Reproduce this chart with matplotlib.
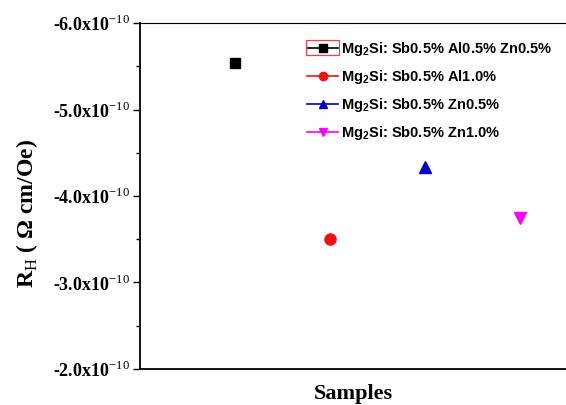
import matplotlib
matplotlib.use('Agg')
import matplotlib.pyplot as plt
from matplotlib.ticker import FixedLocator, FuncFormatter
from matplotlib.patches import Rectangle

plt.rcParams['mathtext.fontset'] = 'custom'
plt.rcParams['mathtext.rm'] = 'Liberation Serif'
plt.rcParams['mathtext.sf'] = 'Liberation Sans:bold'

# Hall coefficient, in units of 1e-10 Ohm cm/Oe
samples = [1, 2, 3, 4]
r_h = [-5.54, -3.50, -4.34, -3.74]
labels = [r'Mg$_\mathsf{2}$Si: Sb0.5% Al0.5% Zn0.5%',
          r'Mg$_\mathsf{2}$Si: Sb0.5% Al1.0%',
          r'Mg$_\mathsf{2}$Si: Sb0.5% Zn0.5%',
          r'Mg$_\mathsf{2}$Si: Sb0.5% Zn1.0%']
colors = ['black', '#ee1111', '#0000cc', '#ff00ff']
markers = ['s', 'o', '^', 'v']
sizes = [7, 8, 8.5, 8.5]

y_ticks = [-6.0, -5.0, -4.0, -3.0, -2.0]

fig = plt.figure(figsize=(5.66, 4.05), dpi=100)
ax = fig.add_axes([0.2473, 0.0889, 0.7527, 0.8543])

for x, y, c, m, s, lab in zip(samples, r_h, colors, markers, sizes, labels):
    ax.plot([x], [y], color=c, marker=m, markersize=s, linestyle='-',
            linewidth=1.2, label=lab)

ax.set_xlim(0, 4.48)
ax.set_ylim(-2.0, -6.0)
ax.yaxis.set_major_locator(FixedLocator(y_ticks))
ax.yaxis.set_minor_locator(FixedLocator([-5.5, -4.5, -3.5, -2.5]))
ax.yaxis.set_major_formatter(FuncFormatter(
    lambda v, p: '%.1fx10$^{\\mathrm{-10}}$' % v))
ax.set_xticks([])
ax.tick_params(axis='y', which='major', direction='out', length=5, width=1,
               labelsize=13, pad=2)
ax.tick_params(axis='y', which='minor', direction='out', length=3, width=1)
for t in ax.get_yticklabels():
    t.set_fontfamily('Liberation Serif')
    t.set_fontweight('bold')

ax.spines['right'].set_visible(False)
ax.spines['left'].set_linewidth(1.3)
ax.spines['bottom'].set_linewidth(1.3)
ax.spines['top'].set_linewidth(0.8)

ax.set_ylabel('R$_\\mathrm{H}$ ( \u03a9 cm/Oe)', fontsize=17,
              fontfamily='Liberation Serif', fontweight='bold')
ax.yaxis.set_label_coords(-0.235, 0.45)
ax.set_xlabel('Samples', fontsize=16, fontfamily='Liberation Serif',
              fontweight='bold', labelpad=11)

leg = ax.legend(loc='upper left', bbox_to_anchor=(0.375, 0.972),
                frameon=False, borderpad=0, handlelength=2.15,
                handletextpad=0.2, labelspacing=0.68, markerscale=0.75,
                prop={'family': 'Liberation Sans', 'weight': 'bold',
                      'size': 10.5})

# selection box around the first legend handle
fig.canvas.draw()
h = leg.legend_handles[0]
pts = h.get_transform().transform(h.get_xydata())
x0, x1 = pts[:, 0].min() - 1, pts[:, 0].max() + 1
yc = pts[:, 1].mean()
to_fig = fig.transFigure.inverted()
(fx0, fy0), (fx1, fy1) = to_fig.transform([(x0, yc - 7.5), (x1, yc + 7.5)])
fig.patches.append(Rectangle((fx0, fy0), fx1 - fx0, fy1 - fy0,
                             transform=fig.transFigure, fill=False,
                             edgecolor='#ee4444', linewidth=0.9))

plt.savefig('out.png', dpi=100)
